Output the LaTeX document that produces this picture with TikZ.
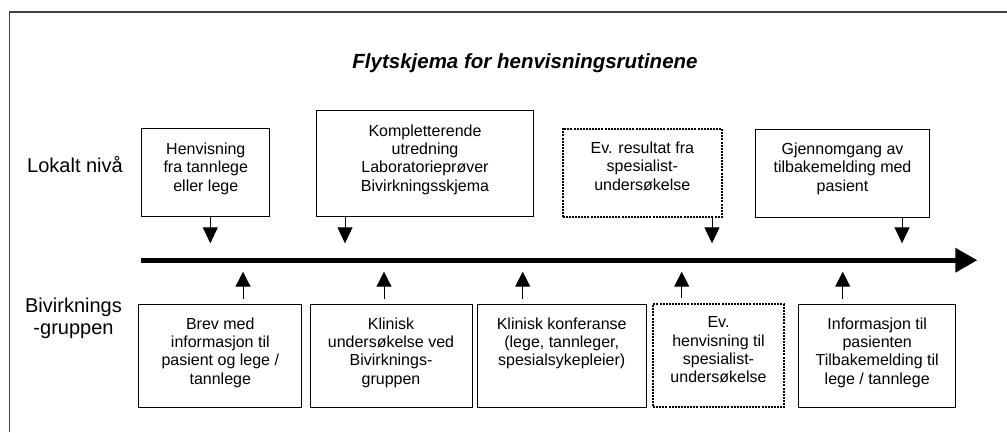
\documentclass[tikz,border=0pt]{standalone}
\usepackage{fontspec}
\setmainfont{Liberation Sans}
\usetikzlibrary{arrows.meta,calc}
\begin{document}
\begin{tikzpicture}[x=1pt,y=-1pt,
  box/.style={draw, line width=1pt, inner sep=0pt},
  dotbox/.style={draw, line width=2.2pt, dash pattern=on 2pt off 1.1pt, inner sep=0pt},
  txt/.style={align=center, inner sep=0pt, anchor=north, font=\fontsize{16}{18.3}\selectfont},
  lbl/.style={align=center, inner sep=0pt, font=\fontsize{20}{21.5}\selectfont},
  arr/.style={line width=1pt, -{Triangle[width=15pt,length=16pt]}},
  uparr/.style={line width=1pt, shorten <=5pt, -{Triangle[width=15pt,length=15pt]}},
  mainarr/.style={line width=5pt, -{Triangle[width=23.5pt,length=22pt]}},
]
\useasboundingbox (0,0) rectangle (1007,432);
\draw[black!75, line width=1.3pt] (9.5,432) -- (9.5,12) -- (1007,12);

% title and side labels
\node[inner sep=0pt, anchor=base, font=\fontsize{20.5}{24}\selectfont\bfseries\itshape] (title) at (525,68.3) {Flytskjema for henvisningsrutinene};
\node[lbl, anchor=base west] (lok) at (27,172.3) {Lokalt nivå};
\node[lbl, anchor=north] (biv) at (73.5,298.2) {Bivirknings\\-gruppen};

% top boxes
\node[box, minimum width=128.3pt, minimum height=87.7pt] (t1) at (205.8,172.8) {};
\node[box, minimum width=216.6pt, minimum height=106pt] (t2) at (425,163.7) {};
\node[dotbox, minimum width=159.3pt, minimum height=88pt] (t3) at (642.3,172.7) {};
\node[box, minimum width=173.6pt, minimum height=88pt] (t4) at (842.5,173) {};

\node[txt] (t1x) at ($(t1.north)+(0,14.3)$) {Henvisning\\fra tannlege\\eller lege};
\node[txt] (t2x) at ($(t2.north)+(0,14.3)$) {Kompletterende\\utredning\\Laboratorieprøver\\Bivirkningsskjema};
\node[txt] (t3x) at ($(t3.north)+(0,14.3)$) {Ev. resultat fra\\spesialist-\\undersøkelse};
\node[txt] (t4x) at ($(t4.north)+(0,14.3)$) {Gjennomgang av\\tilbakemelding med\\pasient};

% bottom boxes
\node[box, minimum width=163.3pt, minimum height=103pt] (b1) at (220.3,355.8) {};
\node[box, minimum width=162pt, minimum height=103pt] (b2) at (391,355.8) {};
\node[box, minimum width=168.7pt, minimum height=103pt] (b3) at (561.7,355.8) {};
\node[dotbox, minimum width=131pt, minimum height=103pt] (b4) at (718.5,355.8) {};
\node[box, minimum width=157pt, minimum height=103pt] (b5) at (877.2,355.8) {};

\node[txt] (b1x) at ($(b1.north)+(0,13.5)$) {Brev med\\informasjon til\\pasient og lege /\\tannlege};
\node[txt] (b2x) at ($(b2.north)+(0,13.5)$) {Klinisk\\undersøkelse ved\\Bivirknings-\\gruppen};
\node[txt] (b3x) at ($(b3.north)+(0,13.5)$) {Klinisk konferanse\\(lege, tannleger,\\spesialsykepleier)};
\node[txt] (b4x) at ($(b4.north)+(0,13.5)$) {Ev.\\henvisning til\\spesialist-\\undersøkelse};
\node[txt] (b5x) at ($(b5.north)+(0,13.5)$) {Informasjon til\\pasienten\\Tilbakemelding til\\lege / tannlege};

% time line
\coordinate (ls) at (141.3,260.2);
\coordinate (le) at (977.3,260.2);
\draw[mainarr] (ls) -- (le);

% down arrow tips
\coordinate (d1) at (210.3,243.3);
\coordinate (d2) at (345,243.3);
\coordinate (d3) at (712,243.3);
\coordinate (d4) at (902,243.3);
\draw[arr] (t1.south -| d1) -- (d1);
\draw[arr] (t2.south -| d2) -- (d2);
\draw[arr] (t3.south -| d3) -- (d3);
\draw[arr] (t4.south -| d4) -- (d4);

% up arrow tips
\coordinate (u1) at (243,271.7);
\coordinate (u2) at (384,271.7);
\coordinate (u3) at (522.7,271.7);
\coordinate (u4) at (681.7,271.7);
\coordinate (u5) at (842.7,271.7);
\draw[uparr] (b1.north -| u1) -- (u1);
\draw[uparr] (b2.north -| u2) -- (u2);
\draw[uparr] (b3.north -| u3) -- (u3);
\draw[uparr] (b4.north -| u4) -- (u4);
\draw[uparr] (b5.north -| u5) -- (u5);
\end{tikzpicture}
\end{document}
